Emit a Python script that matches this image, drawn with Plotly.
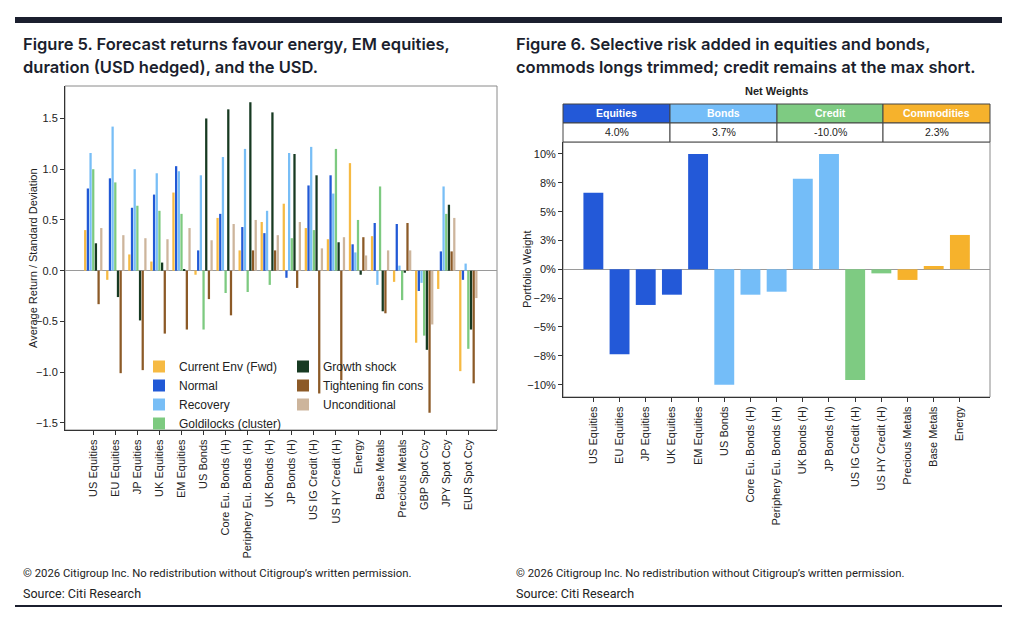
import plotly.graph_objects as go

# ---------------- data ----------------
cats5 = ["US Equities", "EU Equities", "JP Equities", "UK Equities", "EM Equities", "US Bonds",
         "Core Eu. Bonds (H)", "Periphery Eu. Bonds (H)", "UK Bonds (H)", "JP Bonds (H)",
         "US IG Credit (H)", "US HY Credit (H)", "Energy", "Base Metals", "Precious Metals",
         "GBP Spot Ccy", "JPY Spot Ccy", "EUR Spot Ccy"]
current_env = [0.40, -0.09, 0.16, 0.09, 0.77, -0.04, 0.52, 0.20, 0.48, 0.66, 0.42, 0.31, 1.06, 0.34, -0.11, -0.71, -0.18, -0.99]
normal = [0.81, 0.91, 0.62, 0.75, 1.03, 0.20, 0.56, 0.43, 0.37, -0.07, 0.84, 0.94, 0.26, 0.47, 0.46, -0.20, 0.19, -0.09]
recovery = [1.16, 1.42, 1.00, 0.96, 0.98, 0.94, 1.12, 1.20, 0.59, 1.16, 1.22, 0.76, 0.18, -0.14, 0.05, -0.12, 0.83, 0.07]
goldilocks = [1.00, 0.87, 0.64, 0.59, 0.56, -0.58, -0.22, -0.21, -0.14, 0.32, 0.40, 1.20, 0.50, 0.83, -0.29, -0.64, 0.56, -0.77]
growth_shock = [0.27, -0.26, -0.49, 0.08, 0.01, 1.50, 1.59, 1.66, 1.56, 1.15, 0.94, 0.28, -0.04, -0.40, -0.02, -0.78, 0.65, -0.58]
tightening = [-0.33, -1.01, -0.98, -0.62, -0.58, -0.28, -0.44, 0.20, 0.20, -0.17, -1.21, -1.08, 0.33, -0.42, 0.47, -1.40, 0.19, -1.11]
unconditional = [0.42, 0.35, 0.32, 0.31, 0.42, 0.30, 0.46, 0.50, 0.35, 0.48, 0.22, 0.33, 0.15, 0.20, 0.20, -0.53, 0.52, -0.27]
series5_names = ["Current Env (Fwd)", "Normal", "Recovery", "Goldilocks (cluster)",
                 "Growth shock", "Tightening fin cons", "Unconditional"]
y5_ticks = [-1.5, -1.0, -0.5, 0.0, 0.5, 1.0, 1.5]
y5_ticktext = ["\u22121.5", "\u22121.0", "\u22120.5", "0.0", "0.5", "1.0", "1.5"]

cats6 = ["US Equities", "EU Equities", "JP Equities", "UK Equities", "EM Equities", "US Bonds",
         "Core Eu. Bonds (H)", "Periphery Eu. Bonds (H)", "UK Bonds (H)", "JP Bonds (H)",
         "US IG Credit (H)", "US HY Credit (H)", "Precious Metals", "Base Metals", "Energy"]
weights = [6.65, -7.37, -3.09, -2.2, 10.0, -10.0, -2.2, -1.94, 7.86, 10.0, -9.6, -0.35, -0.92, 0.29, 2.98]
asset_class = ["Equities"] * 5 + ["Bonds"] * 5 + ["Credit"] * 2 + ["Commodities"] * 3
classes = ["Equities", "Bonds", "Credit", "Commodities"]
net_weights = ["4.0%", "3.7%", "-10.0%", "2.3%"]
y6_ticks = [-10, -7.5, -5, -2.5, 0, 2.5, 5, 7.5, 10]
y6_ticktext = ["\u221210%", "\u22128%", "\u22125%", "\u22122%", "0%", "3%", "5%", "8%", "10%"]

# ---------------- styles / geometry ----------------
OX, OY = 8, 8            # page body margin of the browser
FW, FH = 1008, 615       # figure size so the page fits the 1024x631 window
def px(x): return (x - OX) / FW
def py(y): return 1 - (y - OY) / FH

series5_colors = ["#F6BA43", "#2159D6", "#78BEF6", "#7DCA80", "#173A22", "#8C5A27", "#CDB59C"]
class_colors = {"Equities": "#2359D8", "Bonds": "#74BDF8", "Credit": "#7ECB82", "Commodities": "#F6B22C"}
TXT = "#222222"
FONT = "Liberation Sans, Arial, sans-serif"
TITLE_FONT = "Inter, Roboto, sans-serif"
FOOT_FONT = "Roboto, sans-serif"

fig = go.Figure()
for i, (name, vals) in enumerate(zip(series5_names, [current_env, normal, recovery, goldilocks,
                                                      growth_shock, tightening, unconditional])):
    fig.add_trace(go.Bar(x=cats5, y=vals, name=name, marker=dict(color=series5_colors[i], line_width=0),
                         xaxis="x", yaxis="y", legend="legend" if i < 4 else "legend2"))

fig.add_trace(go.Bar(x=cats6, y=weights, marker=dict(color=[class_colors[c] for c in asset_class], line_width=0),
                     xaxis="x2", yaxis="y2", showlegend=False, width=0.76))

axis_common = dict(showgrid=False, ticks="outside", ticklen=4, tickcolor="#333", showline=True,
                   linecolor="#333", linewidth=1, tickfont=dict(family=FONT, size=11, color=TXT))

fig.update_layout(
    width=FW, height=FH, margin=dict(l=0, r=0, t=0, b=0),
    paper_bgcolor="white", plot_bgcolor="white",
    barmode="group", bargap=0.15, bargroupgap=0.15,
    xaxis=dict(domain=[px(65), px(497)], anchor="y", range=[-1.28, 18.3], tickangle=-90, **axis_common),
    yaxis=dict(domain=[py(430), py(86)], anchor="x", range=[-1.57, 1.82], tickvals=y5_ticks,
               ticktext=y5_ticktext, zeroline=True, zerolinecolor="#9a9a9a", zerolinewidth=1, **axis_common),
    xaxis2=dict(domain=[px(563), px(990)], anchor="y2", range=[-1.16, 15.15], tickangle=-90, **axis_common),
    yaxis2=dict(domain=[py(397), py(142)], anchor="x2", range=[-11.07, 11.04], tickvals=y6_ticks,
                ticktext=y6_ticktext, zeroline=True, zerolinecolor="#9a9a9a", zerolinewidth=1, **axis_common),
    legend=dict(x=px(139), y=py(352), xanchor="left", yanchor="top", bgcolor="rgba(0,0,0,0)",
                font=dict(family=FONT, size=12, color=TXT), tracegroupgap=0),
    legend2=dict(x=px(283), y=py(352), xanchor="left", yanchor="top", bgcolor="rgba(0,0,0,0)",
                 font=dict(family=FONT, size=12, color=TXT), tracegroupgap=0),
)

shapes = []
# top and bottom rules
shapes.append(dict(type="rect", xref="paper", yref="paper", x0=px(15), x1=px(1002), y0=py(23), y1=py(17),
                   fillcolor="#1B1F2E", line_width=0))
shapes.append(dict(type="rect", xref="paper", yref="paper", x0=px(15), x1=px(1002), y0=py(607), y1=py(605),
                   fillcolor="#1B1F2E", line_width=0))
# light box around plot areas (top/right)
for xd, yd in [("x domain", "y domain"), ("x2 domain", "y2 domain")]:
    shapes.append(dict(type="rect", xref=xd, yref=yd, x0=0, x1=1, y0=0, y1=1,
                       line=dict(color="#8a8a8a", width=1), fillcolor="rgba(0,0,0,0)", layer="below"))
# net weights table
col_edges = [563, 670, 777, 883, 990]
for j, c in enumerate(classes):
    shapes.append(dict(type="rect", xref="paper", yref="paper", x0=px(col_edges[j]), x1=px(col_edges[j + 1]),
                       y0=py(123), y1=py(104), fillcolor=class_colors[c], line=dict(color="#444", width=1)))
    shapes.append(dict(type="rect", xref="paper", yref="paper", x0=px(col_edges[j]), x1=px(col_edges[j + 1]),
                       y0=py(142), y1=py(123), fillcolor="white", line=dict(color="#444", width=1)))
fig.update_layout(shapes=shapes)

ann = []
def text(x, y, s, size=11, color=TXT, family=FONT, xanchor="left", yanchor="middle", angle=0, weight="normal"):
    ann.append(dict(x=px(x), y=py(y), xref="paper", yref="paper", text=s, showarrow=False,
                    xanchor=xanchor, yanchor=yanchor, textangle=angle,
                    font=dict(size=size, color=color, family=family, weight=weight)))

TCOL = "#1B1F2E"
text(21, 44, "Figure 5. Forecast returns favour energy, EM equities,", 16.5, TCOL, TITLE_FONT, weight=600)
text(21, 67, "duration (USD hedged), and the USD.", 16.5, TCOL, TITLE_FONT, weight=600)
text(514, 44, "Figure 6. Selective risk added in equities and bonds,", 16.5, TCOL, TITLE_FONT, weight=600)
text(514, 67, "commods longs trimmed; credit remains at the max short.", 16.5, TCOL, TITLE_FONT, weight=600)

for x0 in (21, 514):
    text(x0, 573, "\u00a9 2026 Citigroup Inc. No redistribution without Citigroup\u2019s written permission.",
         11.3, "#222", FOOT_FONT)
    text(x0, 593, "Source: Citi Research", 12.5, "#222", FOOT_FONT)

text(33, 258, "Average Return / Standard Deviation", 11, TXT, FONT, xanchor="center", angle=-90)
text(527, 270, "Portfolio Weight", 11, TXT, FONT, xanchor="center", angle=-90)
text(776, 91, "Net Weights", 11, TXT, FONT, xanchor="center", weight=700)
for j, c in enumerate(classes):
    cx = (col_edges[j] + col_edges[j + 1]) / 2
    text(cx, 113.5, c, 10.5, "white", FONT, xanchor="center", weight=700)
    text(cx, 132.5, net_weights[j], 10.5, TXT, FONT, xanchor="center")

fig.update_layout(annotations=ann)
fig.write_html("out.html")
